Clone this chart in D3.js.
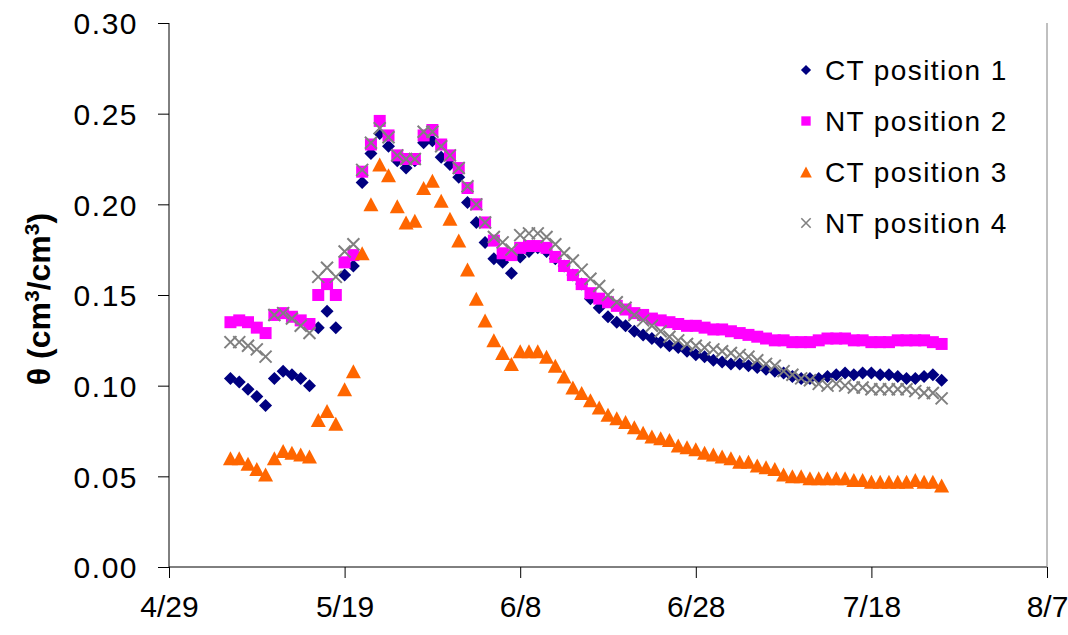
<!DOCTYPE html>
<html>
<head>
<meta charset="utf-8">
<script src="https://cdn.jsdelivr.net/npm/d3@7"></script>
<style>
  body { margin: 0; background: #fff; }
  text { font-family: "Liberation Sans", Arial, sans-serif; fill: #000; }
</style>
</head>
<body>
<div id="chart"></div>
<script>
// measurement dates (month/day)
const dates = [
  "5/6","5/7","5/8","5/9","5/10","5/11","5/12","5/13","5/14","5/15","5/16","5/17","5/18","5/19","5/20",
  "5/21","5/22","5/23","5/24","5/25","5/26","5/27","5/28","5/29","5/30","5/31",
  "6/1","6/2","6/3","6/4","6/5","6/6","6/7","6/8","6/9","6/10","6/11","6/12","6/13","6/14","6/15",
  "6/16","6/17","6/18","6/19","6/20","6/21","6/22","6/23","6/24","6/25","6/26","6/27","6/28","6/29","6/30",
  "7/1","7/2","7/3","7/4","7/5","7/6","7/7","7/8","7/9","7/10","7/11","7/12","7/13","7/14","7/15",
  "7/16","7/17","7/18","7/19","7/20","7/21","7/22","7/23","7/24","7/25","7/26"
]

// volumetric water content, cm3/cm3
const ctPos1 = [
  0.104,0.102,0.098,0.094,0.089,0.104,0.108,0.106,0.104,0.100,0.132,0.141,0.132,0.161,0.166,
  0.212,0.228,0.239,0.232,0.224,0.220,0.224,0.234,0.235,0.226,0.222,
  0.215,0.201,0.190,0.179,0.170,0.168,0.162,0.171,0.174,0.176,0.174,0.170,0.166,0.161,0.156,
  0.148,0.143,0.138,0.135,0.133,0.130,0.128,0.126,0.124,0.122,0.121,0.119,0.117,0.116,0.114,
  0.113,0.112,0.112,0.111,0.110,0.109,0.108,0.107,0.105,0.104,0.104,0.104,0.105,0.106,0.107,
  0.106,0.107,0.107,0.106,0.106,0.105,0.104,0.104,0.105,0.106,0.103
]
const ntPos2 = [
  0.135,0.136,0.135,0.132,0.129,0.139,0.140,0.138,0.136,0.134,0.150,0.156,0.150,0.168,0.172,
  0.218,0.233,0.246,0.238,0.227,0.225,0.225,0.238,0.241,0.233,0.227,
  0.220,0.209,0.200,0.190,0.180,0.173,0.172,0.176,0.177,0.177,0.176,0.171,0.166,0.161,0.156,
  0.151,0.148,0.146,0.144,0.142,0.140,0.139,0.137,0.136,0.135,0.134,0.133,0.133,0.132,0.131,
  0.131,0.130,0.129,0.128,0.127,0.126,0.125,0.125,0.124,0.124,0.124,0.125,0.126,0.126,0.126,
  0.125,0.125,0.124,0.124,0.124,0.125,0.125,0.125,0.125,0.124,0.123
]
const ctPos3 = [
  0.060,0.060,0.057,0.054,0.051,0.060,0.064,0.063,0.062,0.061,0.081,0.086,0.079,0.098,0.108,
  0.173,0.200,0.222,0.216,0.199,0.190,0.191,0.209,0.213,0.202,0.192,
  0.180,0.164,0.148,0.136,0.125,0.118,0.112,0.119,0.119,0.119,0.116,0.111,0.105,0.099,0.096,
  0.092,0.088,0.084,0.082,0.080,0.077,0.074,0.072,0.071,0.070,0.067,0.066,0.065,0.063,0.062,
  0.061,0.060,0.058,0.058,0.056,0.055,0.054,0.051,0.050,0.050,0.049,0.049,0.049,0.049,0.049,
  0.048,0.048,0.047,0.047,0.047,0.047,0.047,0.048,0.047,0.047,0.045
]
const ntPos4 = [
  0.124,0.124,0.122,0.120,0.116,0.139,0.140,0.137,0.133,0.129,0.160,0.165,0.160,0.174,0.178,
  0.219,0.234,0.242,0.237,0.227,0.225,0.225,0.240,0.240,0.232,0.227,
  0.220,0.210,0.200,0.190,0.182,0.179,0.175,0.183,0.184,0.184,0.182,0.178,0.173,0.169,0.164,
  0.159,0.155,0.150,0.146,0.143,0.139,0.136,0.133,0.130,0.127,0.125,0.123,0.122,0.121,0.120,
  0.119,0.118,0.117,0.116,0.114,0.112,0.111,0.108,0.106,0.104,0.103,0.101,0.100,0.101,0.100,
  0.099,0.099,0.098,0.098,0.098,0.098,0.098,0.097,0.096,0.096,0.093
]

const seriesNames = ["CT position 1", "NT position 2", "CT position 3", "NT position 4"]
const yTicks = [0, 0.05, 0.10, 0.15, 0.20, 0.25, 0.30]
const xTickLabels = ["4/29", "5/19", "6/8", "6/28", "7/18", "8/7"]

const width = 1068
const height = 635
const margin = {top: 23, right: 21, bottom: 68, left: 169}

const parseDay = d3.timeParse("%m/%d/%Y")
const toDate = s => parseDay(s + "/2005")

const x = d3.scaleTime()
    .domain([toDate(xTickLabels[0]), toDate(xTickLabels[xTickLabels.length - 1])])
    .range([margin.left, width - margin.right])

const y = d3.scaleLinear()
    .domain([0, 0.30])
    .range([height - margin.bottom, margin.top])

const svg = d3.select("#chart")
  .append("svg")
    .attr("width", width)
    .attr("height", height)

// marker shapes, excel style
const diamond = "M0,-6.5L6.5,0L0,6.5L-6.5,0Z"
const square = "M-6,-6H6V6H-6Z"
const triangle = "M0,-7L7.5,7L-7.5,7Z"
const cross = "M-6,-6L6,6M-6,6L6,-6"

const series = [
  {name: seriesNames[0], values: ctPos1, path: diamond, fill: "#000080", stroke: "none"},
  {name: seriesNames[1], values: ntPos2, path: square, fill: "#ff00ff", stroke: "none"},
  {name: seriesNames[2], values: ctPos3, path: triangle, fill: "#ff6600", stroke: "none"},
  {name: seriesNames[3], values: ntPos4, path: cross, fill: "none", stroke: "#808080"}
]

// axes
const yAxis = d3.axisLeft(y)
    .tickValues(yTicks)
    .tickFormat(d3.format(".2f"))
    .tickSize(11)
    .tickPadding(20)

const xAxis = d3.axisBottom(x)
    .tickValues(xTickLabels.map(toDate))
    .tickFormat((d, i) => xTickLabels[i])
    .tickSize(11)
    .tickPadding(18)

svg.append("g")
    .attr("transform", `translate(${margin.left},0)`)
    .call(yAxis)
    .call(g => g.select(".domain").attr("d", `M0,${margin.top}V${height - margin.bottom}`))
    .call(g => g.selectAll("text")
        .attr("font-size", 30)
        .attr("font-family", null)
        .attr("letter-spacing", 1.5)
        .attr("dy", "0.36em"))

svg.append("g")
    .attr("transform", `translate(0,${height - margin.bottom})`)
    .call(xAxis)
    .call(g => g.select(".domain").attr("d", `M${margin.left},0H${width - margin.right}`))
    .call(g => g.selectAll("text").attr("font-size", 30).attr("font-family", null))

// right edge of plot area
svg.append("line")
    .attr("x1", width - margin.right).attr("x2", width - margin.right)
    .attr("y1", margin.top).attr("y2", height - margin.bottom)
    .attr("stroke", "#808080")

// points
series.forEach(s => {
  svg.append("g")
    .selectAll("path")
    .data(s.values.map((v, i) => ({date: toDate(dates[i]), value: v})))
    .enter()
    .append("path")
      .attr("d", s.path)
      .attr("transform", d => `translate(${x(d.date)},${y(d.value)})`)
      .attr("fill", s.fill)
      .attr("stroke", s.stroke)
      .attr("stroke-width", 2)
})

// y axis title
svg.append("text")
    .attr("transform", `translate(50,${(margin.top + height - margin.bottom) / 2 + 4}) rotate(-90)`)
    .attr("text-anchor", "middle")
    .attr("font-size", 32)
    .attr("font-weight", "bold")
    .html('θ (cm<tspan baseline-shift="super" font-size="21">3</tspan>/cm<tspan baseline-shift="super" font-size="21">3</tspan>)')

// legend
const legend = svg.append("g")
    .selectAll("g")
    .data(series)
    .enter()
    .append("g")
    .attr("transform", (d, i) => `translate(806,${70 + i * 51})`)

legend.append("path")
    .attr("d", d => d.path)
    .attr("transform", "scale(0.78)")
    .attr("fill", d => d.fill)
    .attr("stroke", d => d.stroke)
    .attr("stroke-width", 2)

legend.append("text")
    .attr("x", 19)
    .attr("dy", "0.36em")
    .attr("font-size", 28)
    .attr("letter-spacing", 1.4)
    .text(d => d.name)
</script>
</body>
</html>
